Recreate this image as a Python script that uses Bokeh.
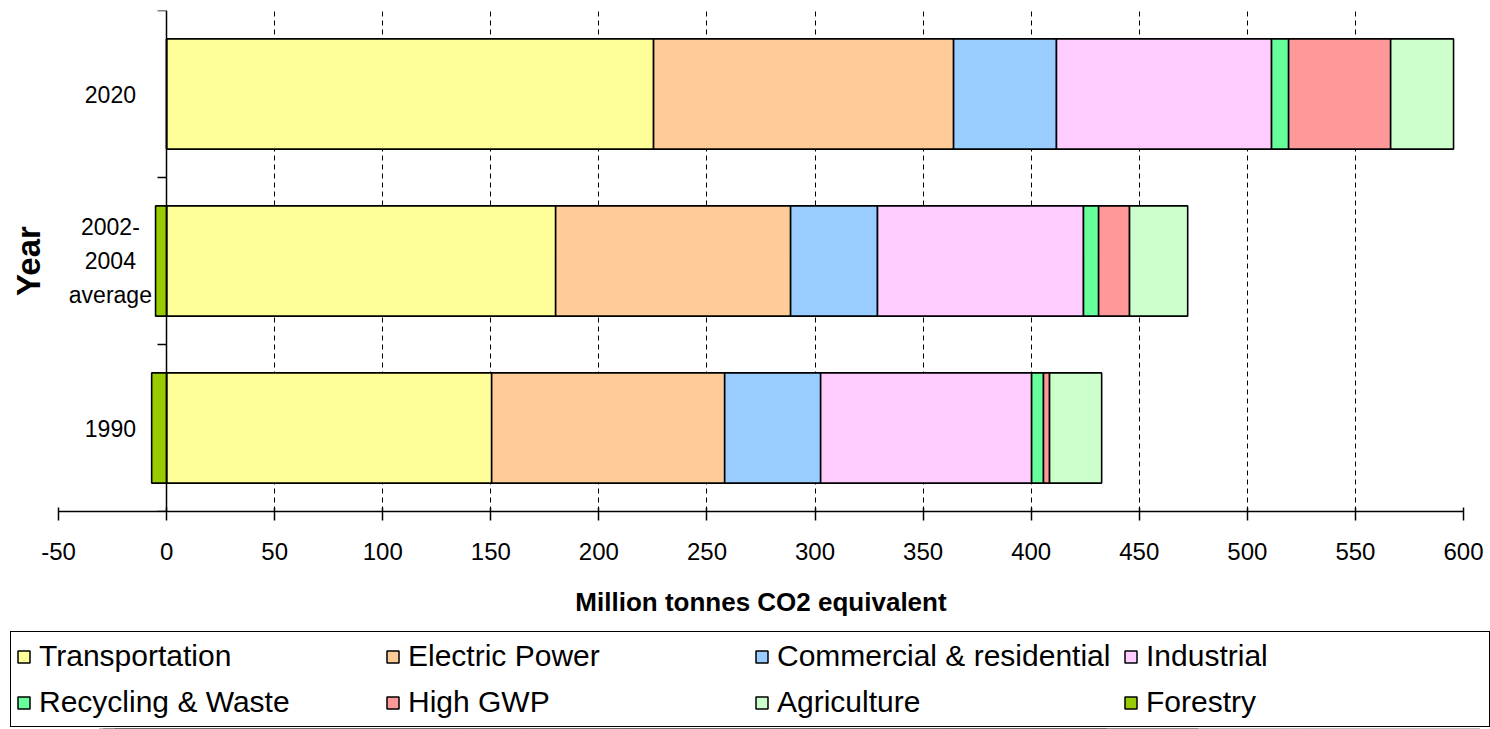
from bokeh.plotting import figure
from bokeh.models import (ColumnDataSource, Range1d, LinearAxis, FixedTicker, Legend,
                          LegendItem)
from bokeh.layouts import column
from bokeh.core.properties import value
from bokeh.embed import file_html
from bokeh.resources import INLINE

# ---- data ----
categories = ["1990", "2002-\n2004\naverage", "2020"]
series = ["Transportation", "Electric Power", "Commercial & residential", "Industrial",
          "Recycling & Waste", "High GWP", "Agriculture"]
transportation = [150.4, 180.0, 225.3]
electric_power = [107.8, 108.7, 138.8]
commercial = [44.4, 40.2, 47.6]
industrial = [97.6, 95.3, 99.5]
recycling = [5.5, 7.0, 7.9]
high_gwp = [2.8, 14.3, 47.2]
agriculture = [24.1, 26.9, 29.1]
forestry = [-6.9, -5.1, 0.0]
x_ticks = [-50, 0, 50, 100, 150, 200, 250, 300, 350, 400, 450, 500, 550, 600]

colors = ["#FFFF99", "#FFCC99", "#99CCFF", "#FFCCFF", "#66FF99", "#FF9999", "#CCFFCC"]
forestry_color = "#99CC00"

FONT = "Liberation Sans"

ypos = [i + 0.5 for i in range(len(categories))]
data = dict(y=ypos, cat=categories,
            **{series[0]: transportation, series[1]: electric_power, series[2]: commercial,
               series[3]: industrial, series[4]: recycling, series[5]: high_gwp,
               series[6]: agriculture},
            Forestry=forestry)
source = ColumnDataSource(data)

p = figure(width=1490, height=631, output_backend="svg", toolbar_location=None,
           x_range=Range1d(-50, 600), y_range=Range1d(0, len(categories)),
           min_border_left=58, min_border_right=27, min_border_top=10,
           min_border_bottom=120)
p.frame_align = False
p.outline_line_color = None
p.background_fill_color = "white"

renderers = p.hbar_stack(series, y="y", height=0.66, color=colors, source=source,
                         line_color="black", line_width=1.6)
rf = p.hbar(y="y", left=0, right="Forestry", height=0.66, source=source,
            fill_color=forestry_color, line_color="black", line_width=1.6)

# category labels
p.text(x=-26, y="y", text="cat", source=source, text_align="center",
       text_baseline="middle", text_font=value(FONT), text_font_size="23px",
       text_line_height=1.3, text_color="black")

# x axis
xa = p.xaxis[0]
xa.ticker = FixedTicker(ticks=x_ticks)
xa.major_label_overrides = {t: str(t) for t in x_ticks}
xa.axis_line_color = "black"
xa.axis_line_width = 1.5
xa.major_tick_in = 4
xa.major_tick_out = 9
xa.major_tick_line_width = 1.5
xa.minor_tick_line_color = None
xa.major_label_text_font = FONT
xa.major_label_text_font_size = "24px"
xa.major_label_text_color = "black"
xa.major_label_standoff = 22
xa.axis_label = "Million tonnes CO2 equivalent"
xa.axis_label_text_font = FONT
xa.axis_label_text_font_size = "26px"
xa.axis_label_text_font_style = "bold"
xa.axis_label_text_color = "black"
xa.axis_label_standoff = 24

# grid
p.xgrid.ticker = FixedTicker(ticks=x_ticks)
p.xgrid.grid_line_color = "black"
p.xgrid.grid_line_dash = "5 4"
p.xgrid.grid_line_width = 1
p.ygrid.grid_line_color = None

# left y axis only carries the title
ya = p.yaxis[0]
ya.ticker = FixedTicker(ticks=[])
ya.axis_line_color = None
ya.major_tick_line_color = None
ya.minor_tick_line_color = None
ya.major_label_standoff = 0
ya.major_tick_out = 0
ya.axis_label = "Year"
ya.axis_label_text_font = FONT
ya.axis_label_text_font_size = "33px"
ya.axis_label_text_font_style = "bold"
ya.axis_label_text_color = "black"
ya.axis_label_standoff = 12

# vertical axis at x = 0 with ticks between categories
y0 = LinearAxis(fixed_location=0, ticker=FixedTicker(ticks=[0, 1, 2, 3]),
                major_tick_out=9, major_tick_in=0, major_tick_line_width=1.5,
                axis_line_color="black", axis_line_width=1.5,
                major_label_text_color=None, minor_tick_line_color=None)
p.add_layout(y0, "left")

# ---- legend in its own strip below the chart ----
lf = figure(width=1490, height=98, output_backend="svg", toolbar_location=None,
            x_range=Range1d(-50, 600), y_range=Range1d(10, 11),
            min_border_left=0, min_border_right=0, min_border_top=0, min_border_bottom=0)
lf.frame_align = False
lf.axis.visible = False
lf.grid.visible = False
lf.outline_line_color = None
lsource = ColumnDataSource(data)
lrs = lf.hbar_stack(series, y="y", height=0.66, color=colors, source=lsource,
                    line_color="black", line_width=1.5)
lrf = lf.hbar(y="y", left=0, right="Forestry", height=0.66, source=lsource,
              fill_color=forestry_color, line_color="black", line_width=1.5)

items = [LegendItem(label=s, renderers=[r]) for s, r in zip(series, lrs)]
items.append(LegendItem(label="Forestry", renderers=[lrf]))
legend = Legend(items=items, orientation="horizontal", ncols=4, location=(10, 2),
                glyph_width=15, glyph_height=15, label_standoff=8, label_width=338,
                label_height=38, spacing=8, padding=5, margin=0,
                label_text_font=FONT, label_text_font_size="30px",
                label_text_color="black", border_line_color="black",
                border_line_alpha=1.0, border_line_width=1.2,
                background_fill_color="white", background_fill_alpha=1.0)
lf.add_layout(legend, "center")

open("out.html", "w").write(file_html(column(p, lf, spacing=0), INLINE))
